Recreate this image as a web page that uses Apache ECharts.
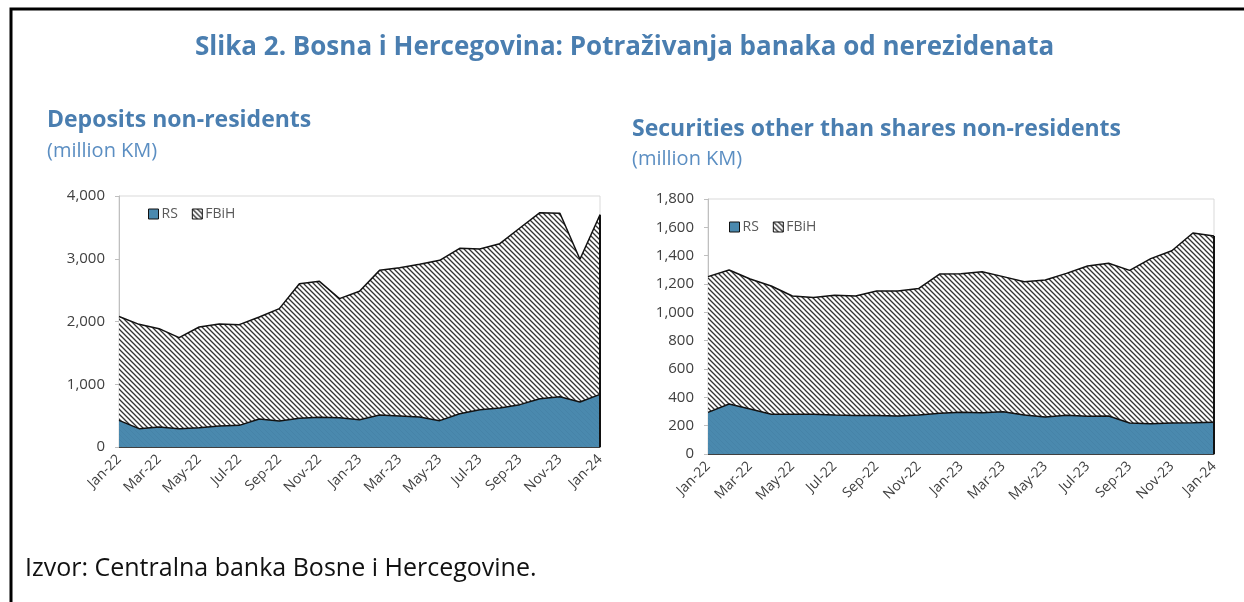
<!DOCTYPE html>
<html>
<head>
<meta charset="utf-8" />
<title>Potraživanja banaka od nerezidenata</title>
<script src="https://cdn.jsdelivr.net/npm/echarts@6/dist/echarts.min.js"></script>
<style>html,body{margin:0;padding:0;background:#fff;}</style>
</head>
<body>
<div id="main" style="width:1244px;height:602px;"></div>
<script>
// mjeseci
var months = ['Jan-22','Feb-22','Mar-22','Apr-22','May-22','Jun-22','Jul-22','Aug-22','Sep-22','Oct-22','Nov-22','Dec-22',
	'Jan-23','Feb-23','Mar-23','Apr-23','May-23','Jun-23','Jul-23','Aug-23','Sep-23','Oct-23','Nov-23','Dec-23','Jan-24'];

// depoziti (million KM)
var depositsRS = [425,292,319,292,308,335,345,446,414,457,473,467,435,510,494,478,420,531,595,621,675,770,802,717,839];
var depositsFBiH = [1655,1663,1567,1450,1604,1625,1605,1626,1791,2146,2167,1897,2046,2305,2364,2433,2555,2635,2560,2619,2815,2964,2922,2274,2863];

// vrijednosni papiri (million KM)
var securitiesRS = [294,353,318,280,280,280,275,271,271,268,275,287,294,292,299,275,261,273,266,268,219,214,219,221,224];
var securitiesFBiH = [958,946,917,906,835,824,845,844,880,883,894,984,979,995,953,941,967,1002,1061,1078,1077,1165,1216,1339,1315];

var blue = '#4a89ae';
var titleBlue = '#4a7eb0';
var font = '"Open Sans", "Noto Sans", sans-serif';

function hatch(bg, fg, w) {
	var c = document.createElement('canvas');
	c.width = 5; c.height = 5;
	var ctx = c.getContext('2d');
	ctx.fillStyle = bg;
	ctx.fillRect(0, 0, 5, 5);
	ctx.strokeStyle = fg;
	ctx.lineWidth = w;
	ctx.beginPath();
	ctx.moveTo(-1, -1); ctx.lineTo(6, 6);
	ctx.moveTo(-1, 4); ctx.lineTo(1, 6);
	ctx.moveTo(4, -1); ctx.lineTo(6, 1);
	ctx.stroke();
	return {image: c, repeat: 'repeat'};
}
var fbihFill = hatch('#ffffff', '#333333', 1.3);
var rsFill = hatch(blue, '#4683a8', 1);

function fmt(v) {
	return v.toString().replace(/\B(?=(\d{3})+(?!\d))/g, ',');
}

function xAxis(idx) {
	return {
		type: 'category', gridIndex: idx, data: months, boundaryGap: false,
		axisLine: {lineStyle: {color: '#404040', width: 1}},
		axisTick: {show: true, inside: true, interval: 1, length: 5, lineStyle: {color: '#d0d0d0'}},
		axisLabel: {interval: 1, rotate: 45, margin: 10, color: '#404040', fontSize: 14, fontFamily: font}
	};
}
function yAxis(idx, max, step) {
	return {
		type: 'value', gridIndex: idx, min: 0, max: max, interval: step,
		splitLine: {show: false},
		axisLine: {show: true, lineStyle: {color: '#bfbfbf'}},
		axisTick: {show: true, length: 4, lineStyle: {color: '#bfbfbf'}},
		axisLabel: {margin: 14, color: '#404040', fontSize: 15, fontFamily: font, formatter: fmt}
	};
}
function pair(idx, rs, fb, stack) {
	var last = months.length - 1;
	return [{
		name: 'RS', type: 'line', xAxisIndex: idx, yAxisIndex: idx, stack: stack,
		data: rs, showSymbol: false, silent: true,
		lineStyle: {color: '#111', width: 1.5},
		itemStyle: {color: blue},
		areaStyle: {color: rsFill, opacity: 1},
		markLine: {
			symbol: 'none', silent: true, label: {show: false},
			lineStyle: {color: '#111', width: 2, type: 'solid'},
			data: [[{coord: [months[last], 0]}, {coord: [months[last], rs[last] + fb[last]]}]]
		}
	}, {
		name: 'FBiH', type: 'line', xAxisIndex: idx, yAxisIndex: idx, stack: stack,
		data: fb, showSymbol: false, silent: true,
		lineStyle: {color: '#111', width: 1.5},
		itemStyle: {color: '#888'},
		areaStyle: {color: fbihFill, opacity: 1}
	}];
}
function legend(left, top) {
	return {
		left: left, top: top, orient: 'horizontal', icon: 'rect',
		itemWidth: 10, itemHeight: 10, itemGap: 14, padding: 0, selectedMode: false,
		textStyle: {color: '#595959', fontSize: 14, fontFamily: font, padding: [0, 0, 0, -2]},
		data: [
			{name: 'RS', itemStyle: {color: blue, borderColor: '#111', borderWidth: 1}},
			{name: 'FBiH', itemStyle: {color: fbihFill, borderColor: '#111', borderWidth: 1}}
		]
	};
}

var chart = echarts.init(document.getElementById('main'), null, {renderer: 'canvas'});
chart.setOption({
	backgroundColor: '#fff',
	animation: false,
	title: [
		{text: 'Slika 2. Bosna i Hercegovina: Potraživanja banaka od nerezidenata', left: 195, top: 35, padding: 0,
			textStyle: {color: titleBlue, fontSize: 26, fontWeight: 'bold', fontFamily: font}},
		{text: 'Deposits non-residents', left: 47, top: 109, padding: 0,
			textStyle: {color: titleBlue, fontSize: 23, fontWeight: 'bold', fontFamily: font}},
		{text: '(million KM)', left: 47, top: 141, padding: 0,
			textStyle: {color: '#5b8ec2', fontSize: 20, fontWeight: 'normal', fontFamily: font}},
		{text: 'Securities other than shares non-residents', left: 632, top: 118, padding: 0,
			textStyle: {color: titleBlue, fontSize: 23, fontWeight: 'bold', fontFamily: font}},
		{text: '(million KM)', left: 632, top: 149, padding: 0,
			textStyle: {color: '#5b8ec2', fontSize: 20, fontWeight: 'normal', fontFamily: font}},
		{text: 'Izvor: Centralna banka Bosne i Hercegovine.', left: 25, top: 556, padding: 0,
			textStyle: {color: '#111', fontSize: 25, fontWeight: 'normal', fontFamily: font}}
	],
	graphic: [{
		type: 'polyline', silent: true,
		shape: {points: [[11, 602], [11, 9], [1244, 9]]},
		style: {stroke: '#000', lineWidth: 3, fill: null}
	}],
	legend: [legend(148, 207), legend(729, 220)],
	grid: [
		{left: 119, right: 644, top: 196, bottom: 155, show: true, borderColor: '#d9d9d9', borderWidth: 1},
		{left: 708, right: 30, top: 199, bottom: 148, show: true, borderColor: '#d9d9d9', borderWidth: 1}
	],
	xAxis: [xAxis(0), xAxis(1)],
	yAxis: [yAxis(0, 4000, 1000), yAxis(1, 1800, 200)],
	series: pair(0, depositsRS, depositsFBiH, 'dep').concat(pair(1, securitiesRS, securitiesFBiH, 'sec'))
});
</script>
</body>
</html>
